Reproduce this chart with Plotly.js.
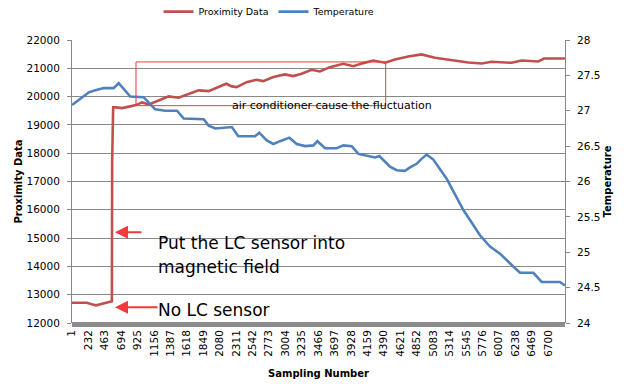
<!DOCTYPE html>
<html>
<head>
<meta charset="utf-8">
<script src="https://cdn.plot.ly/plotly-3.0.1.min.js"></script>
<style>
html,body{margin:0;padding:0;background:#fff;}
#chart{width:629px;height:386px;}
</style>
</head>
<body>
<div id="chart"></div>
<script>
// Sampling numbers and values
const proxSamples = [1,100,207,280,338,400,441,500,558,562,566,580,620,703,820,900,985,1080,1220,1360,1500,1640,1782,1922,2063,2170,2250,2316,2457,2598,2691,2832,2996,3113,3230,3371,3488,3629,3816,3957,4098,4238,4403,4543,4731,4918,5106,5340,5575,5763,5903,6184,6325,6559,6640,6934];
const proxValues  = [12717,12717,12717,12660,12625,12665,12695,12740,12766,12770,17750,19620,19620,19595,19655,19700,19795,19725,19865,20007,19960,20100,20220,20195,20335,20455,20360,20335,20512,20595,20548,20690,20783,20725,20808,20948,20890,21040,21160,21075,21183,21277,21195,21312,21418,21490,21372,21277,21206,21171,21230,21195,21277,21241,21347,21347];

const tempSamples = [1,71,142,236,329,447,587,657,728,820,1009,1102,1172,1313,1478,1572,1712,1853,1923,2017,2250,2340,2575,2635,2740,2833,2927,3058,3162,3279,3396,3452,3560,3725,3818,3935,4029,4146,4263,4324,4403,4474,4567,4684,4755,4849,4918,4989,5083,5270,5504,5739,5880,6021,6185,6302,6490,6607,6864,6935];
const tempValues  = [27.08,27.13,27.19,27.26,27.29,27.32,27.32,27.39,27.31,27.20,27.19,27.10,27.02,27.00,27.00,26.89,26.88,26.88,26.79,26.75,26.77,26.64,26.64,26.69,26.58,26.53,26.57,26.62,26.53,26.50,26.51,26.57,26.47,26.47,26.51,26.50,26.39,26.36,26.34,26.36,26.28,26.21,26.16,26.15,26.20,26.25,26.32,26.38,26.31,26.04,25.60,25.24,25.08,24.98,24.82,24.71,24.71,24.58,24.58,24.53];

const xTickVals = [1,232,463,694,925,1156,1387,1618,1849,2080,2311,2542,2773,3004,3235,3466,3697,3928,4159,4390,4621,4852,5083,5314,5545,5776,6007,6238,6469,6700];

const seriesNames = ['Proximity Data','Temperature'];
const xTitle = 'Sampling Number';
const y1Title = 'Proximity Data';
const y2Title = 'Temperature';
const noteFluct = 'air conditioner cause the fluctuation';
const notePut1 = 'Put the LC sensor into';
const notePut2 = 'magnetic field';
const noteNo = 'No LC sensor';

const RED = '#C0504D', BLUE = '#4F81BD', ARROW = '#F23A3A', GRID = '#888888';
const FONT = 'DejaVu Sans, Verdana, sans-serif';

const traces = [
  {x: proxSamples, y: proxValues, name: seriesNames[0], type: 'scatter', mode: 'lines',
   line: {color: RED, width: 2.6}, yaxis: 'y'},
  {x: tempSamples, y: tempValues, name: seriesNames[1], type: 'scatter', mode: 'lines',
   line: {color: BLUE, width: 2.6}, yaxis: 'y2'}
];

const layout = {
  width: 629, height: 386,
  margin: {l: 72, r: 64, t: 40, b: 63},
  paper_bgcolor: '#fff', plot_bgcolor: '#fff',
  font: {family: FONT, size: 10.5, color: '#000'},
  showlegend: true,
  legend: {orientation: 'h', xref: 'container', yref: 'container',
           x: 0.252, xanchor: 'left', y: 0.97, yanchor: 'middle', itemwidth: 30,
           font: {family: FONT, size: 9.5, color: '#000'}, bgcolor: 'rgba(0,0,0,0)'},
  xaxis: {
    range: [1, 6935], tickmode: 'array', tickvals: xTickVals, ticktext: xTickVals.map(String),
    tickangle: -90, showgrid: false, zeroline: false, showline: false, ticks: '',
    ticklabelstandoff: 4,
    tickfont: {family: FONT, size: 10.5, color: '#000'},
    title: {text: xTitle, font: {family: FONT, size: 10, color: '#000', weight: 'bold'}, standoff: 14}
  },
  yaxis: {
    range: [12000, 22000], dtick: 1000, tick0: 12000, tickformat: 'd',
    showgrid: true, gridcolor: GRID, gridwidth: 1, zeroline: false,
    showline: true, linecolor: GRID, linewidth: 1, ticks: 'outside', ticklen: 4, tickcolor: GRID,
    ticklabelstandoff: 5,
    tickfont: {family: FONT, size: 10.5, color: '#000'},
    title: {text: y1Title, font: {family: FONT, size: 10, color: '#000', weight: 'bold'}}
  },
  yaxis2: {
    range: [24, 28], dtick: 0.5, tick0: 24, overlaying: 'y', side: 'right',
    showgrid: false, zeroline: false,
    showline: true, linecolor: GRID, linewidth: 1, ticks: 'outside', ticklen: 4, tickcolor: GRID,
    ticklabelstandoff: 5,
    tickfont: {family: FONT, size: 10.5, color: '#000'},
    title: {text: y2Title, font: {family: FONT, size: 10, color: '#000', weight: 'bold'}}
  },
  shapes: [
    // dense category tick band under the x axis
    {type: 'rect', xref: 'paper', yref: 'paper', x0: 0, x1: 1, ysizemode: 'pixel', yanchor: 0,
     y0: 1, y1: -4, fillcolor: '#8C8C8C', line: {width: 0}, layer: 'above'},
    // callout box
    {type: 'rect', xref: 'x', yref: 'y', x0: 901, x1: 4413, y0: 19680, y1: 21225,
     line: {color: ARROW, width: 1}, fillcolor: 'rgba(0,0,0,0)', layer: 'above'}
  ],
  annotations: [
    {xref: 'x', yref: 'y', x: 2223, y: 19690, text: noteFluct, showarrow: false,
     xanchor: 'left', yanchor: 'middle', font: {family: FONT, size: 11, color: '#000'}},
    {xref: 'x', yref: 'y', x: 606, y: 15210, text: '', showarrow: true, ax: 28, ay: 0,
     arrowhead: 2, arrowsize: 1.3, arrowwidth: 2, arrowcolor: ARROW, standoff: 0},
    {xref: 'x', yref: 'y', x: 606, y: 12555, text: '', showarrow: true, ax: 44, ay: 0,
     arrowhead: 2, arrowsize: 1.3, arrowwidth: 2, arrowcolor: ARROW, standoff: 0},
    {xref: 'x', yref: 'y', x: 1185, y: 14833, text: notePut1, showarrow: false,
     xanchor: 'left', yanchor: 'middle', font: {family: FONT, size: 17, color: '#000'}},
    {xref: 'x', yref: 'y', x: 1185, y: 13987, text: notePut2, showarrow: false,
     xanchor: 'left', yanchor: 'middle', font: {family: FONT, size: 17, color: '#000'}},
    {xref: 'x', yref: 'y', x: 1185, y: 12477, text: noteNo, showarrow: false,
     xanchor: 'left', yanchor: 'middle', font: {family: FONT, size: 17, color: '#000'}}
  ]
};

Plotly.newPlot('chart', traces, layout, {displayModeBar: false, staticPlot: true});
</script>
</body>
</html>
